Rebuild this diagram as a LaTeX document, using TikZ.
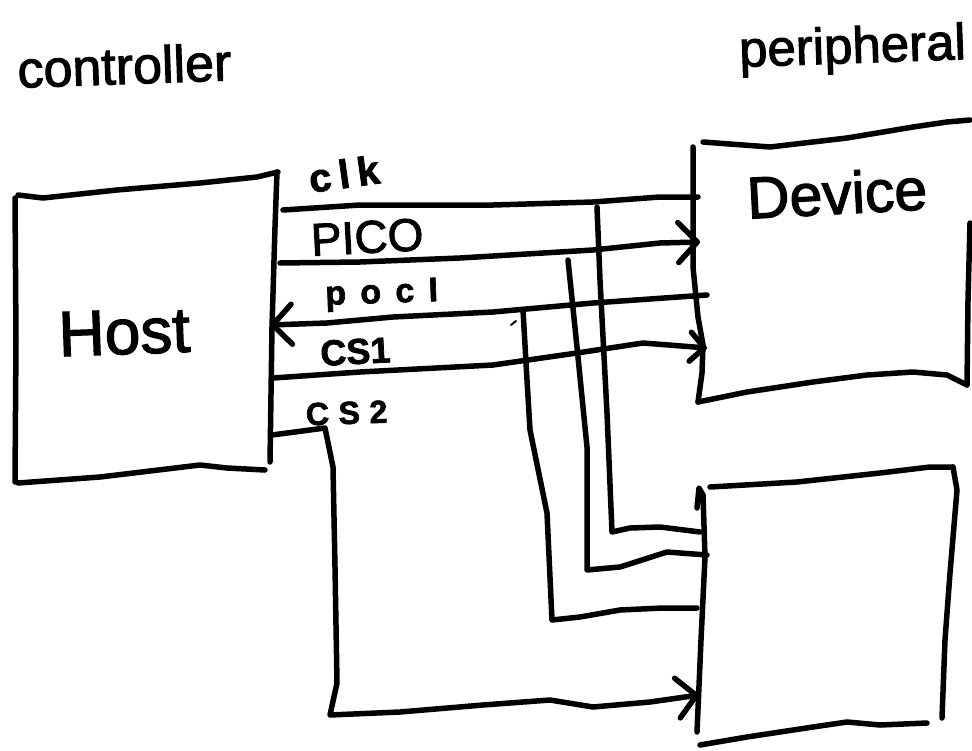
\documentclass[tikz,border=0pt]{standalone}
\usepackage{fontspec}
\setmainfont{Liberation Sans}[FakeBold=2]
\usetikzlibrary{arrows.meta}

\begin{document}
\begin{tikzpicture}[x=1pt,y=-1pt,
  pen/.style={line width=5.5pt, line cap=round, line join=round},
  wire/.style={pen},
  bigtip/.style={-{Straight Barb[length=19pt,width=40pt,round]}},
  smalltip/.style={-{Straight Barb[length=14pt,width=29pt,round]}},
  lbl/.style={inner sep=0pt, anchor=base},
  fs/.style={font=\fontsize{#1}{#1}\selectfont},
  fsb/.style={font=\fontsize{#1}{#1}\selectfont\bfseries}
]
\useasboundingbox (0,0) rectangle (972,750);

% ---- titles ----
\node[lbl, fs=52, rotate=2] (ctl) at (125,84) {controller};
\node[lbl, fs=51, rotate=2] (per) at (853,63) {peripheral};

% ---- Host box ----
\draw[pen] (18,195) -- (43,198) -- (117,190) -- (200,183) -- (257,177) -- (278,172);
\draw[pen] (15,198) -- (16,340) -- (15,482);
\draw[pen] (18,483) -- (100,477) -- (200,465) -- (227,468) -- (265,470);
\draw[pen] (277,172) -- (275,227) -- (272,327) -- (270,462);
\node[lbl, fs=64, rotate=2] (host) at (125,354) {Host};

% ---- Device box ----
\draw[pen] (693,147) -- (693,267) -- (698,317) -- (703,345) -- (702,373) -- (698,402);
\draw[pen] (703,142) -- (770,147) -- (847,138) -- (913,127) -- (947,122) -- (970,120);
\draw[pen] (970,223) -- (968,300) -- (967,385);
\draw[pen] (698,402) -- (747,392) -- (813,382) -- (867,375) -- (913,372) -- (947,375) -- (967,385);
\node[lbl, fs=59, rotate=3] (dev) at (838,214) {Device};

% ---- second peripheral box ----
\draw[pen] (697,508) -- (699,488) -- (703,495) -- (705,557) -- (701,640) -- (697,732);
\draw[pen] (710,487) -- (797,482) -- (880,473) -- (930,467) -- (953,467);
\draw[pen] (953,467) -- (957,490) -- (950,573) -- (945,640) -- (942,718);
\draw[pen] (700,745) -- (747,737) -- (813,727) -- (847,722) -- (880,725) -- (927,723);

% ---- ports ----
\coordinate (hClk)  at (283,210);
\coordinate (hPico) at (280,263);
\coordinate (hPoci) at (270,325);
\coordinate (hCs1)  at (273,378);
\coordinate (hCs2)  at (272,435);
\coordinate (dClk)  at (698,197);
\coordinate (dPico) at (700,242);
\coordinate (dPoci) at (707,295);
\coordinate (dCs1)  at (707,348);
\coordinate (pClk)  at (700,532);
\coordinate (pPico) at (707,555);
\coordinate (pPoci) at (697,608);
\coordinate (pCs2)  at (699,695);
% taps and bends
\coordinate (tClk)  at (597,207);
\coordinate (tPico) at (568,260);
\coordinate (tPoci) at (523,310);
\coordinate (bClk)  at (612,532);
\coordinate (bPico) at (587,570);
\coordinate (bPoci) at (552,620);
\coordinate (bCs2a) at (325,428);
\coordinate (bCs2b) at (330,715);

% ---- signal lines ----
\draw[wire] (hClk) -- (360,205) -- (493,205) -- (593,202) -- (660,197) -- (dClk);
\draw[wire, bigtip] (hPico) -- (360,262) -- (460,258) -- (593,250) -- (660,243) -- (dPico);
\draw[wire, bigtip] (dPoci) -- (593,303) -- (493,312) -- (393,317) -- (327,323) -- (hPoci);
\draw[wire, smalltip] (hCs1) -- (360,372) -- (493,365) -- (577,353) -- (643,343) -- (dCs1);
\draw[wire, bigtip] (hCs2) -- (bCs2a) -- (333,467) -- (335,567) -- (337,683) -- (bCs2b)
   -- (400,712) -- (483,705) -- (550,700) -- (593,707) -- (650,702) -- (pCs2);

% branches to the second peripheral
\draw[wire] (tClk) -- (600,280) -- (607,413) -- (bClk) -- (630,528) -- (660,527) -- (pClk);
\draw[wire] (tPico) -- (577,347) -- (587,447) -- (bPico) -- (620,567) -- (667,552) -- (pPico);
\draw[wire] (tPoci) -- (527,380) -- (530,430) -- (547,513) -- (bPoci) -- (580,617) -- (620,610) -- (663,608) -- (pPoci);
\draw[line width=2pt, line cap=round] (511,325) -- (516,321);

% ---- signal labels ----
\node[lbl, font=\fontsize{40}{40}\selectfont\bfseries\addfontfeatures{LetterSpace=19}, rotate=8] (lclk) at (346,188) {clk};
\node[lbl, fs=46, rotate=3] (lpico) at (368,253) {PICO};
\node[lbl, font=\fontsize{34}{34}\selectfont\bfseries\addfontfeatures{LetterSpace=42}, rotate=2] (lpoci) at (382,303) {pocI};
\node[lbl, fsb=36, rotate=3] (lcs1) at (356,364) {CS1};
\node[lbl, font=\fontsize{32}{32}\selectfont\bfseries\addfontfeatures{LetterSpace=30}, rotate=2] (lcs2) at (347,424) {CS2};
\end{tikzpicture}
\end{document}
